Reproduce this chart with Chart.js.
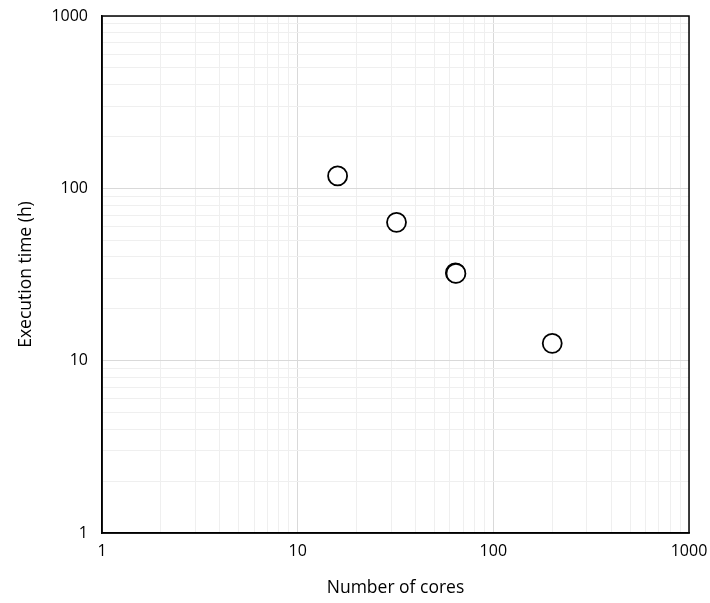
<!DOCTYPE html>
<html>
<head>
<meta charset="utf-8">
<script src="https://cdn.jsdelivr.net/npm/chart.js@4/dist/chart.umd.min.js"></script>
<style>
html,body{margin:0;padding:0;background:#fff;}
#wrap{width:710px;height:603px;position:relative;}
</style>
</head>
<body>
<div id="wrap"><canvas id="c" width="710" height="603"></canvas></div>
<script>
const cores = [16, 32, 64, 64.4, 200];
const hours = [118, 63.5, 32.3, 32.1, 12.6];
const xTickLabels = [1, 10, 100, 1000];
const yTickLabels = [1, 10, 100, 1000];
const xTitle = 'Number of cores';
const yTitle = 'Execution time (h)';

function logTicks(min, max) {
  const t = [];
  for (let d = min; d < max; d *= 10) {
    for (let k = 1; k < 10; k++) t.push({value: d * k});
  }
  t.push({value: max});
  return t;
}
function isMajor(v) {
  const l = Math.log10(v);
  return Math.abs(l - Math.round(l)) < 1e-9;
}
const font = "'Open Sans', 'Liberation Sans', sans-serif";

new Chart(document.getElementById('c'), {
  type: 'scatter',
  data: {
    datasets: [{
      data: cores.map((x, i) => ({x: x, y: hours[i]})),
      pointStyle: 'circle',
      pointRadius: 9.5,
      pointHoverRadius: 9.5,
      pointBorderWidth: 1.8,
      pointBorderColor: '#000',
      pointBackgroundColor: '#fff',
      showLine: false
    }]
  },
  options: {
    responsive: false,
    animation: false,
    devicePixelRatio: 1,
    layout: {padding: {left: 0, right: 21, top: 16, bottom: 0}},
    plugins: {legend: {display: false}, tooltip: {enabled: false}},
    scales: {
      x: {
        type: 'logarithmic',
        min: 1, max: 1000,
        afterBuildTicks: s => { s.ticks = logTicks(1, 1000); },
        afterFit: s => { s.height = 70; s.paddingLeft = 0; s.paddingRight = 0; },
        grid: {
          color: c => isMajor(c.tick.value) ? '#d9d9d9' : '#efefef',
          lineWidth: 1,
          drawTicks: false
        },
        border: {display: true, color: '#000', width: 1.5},
        ticks: {
          autoSkip: false,
          maxRotation: 0,
          padding: 9,
          color: '#000',
          font: {family: font, size: 16},
          callback: v => xTickLabels.includes(v) ? String(v) : ''
        },
        title: {display: true, text: xTitle, color: '#000',
          font: {family: font, size: 17.5}, padding: {top: 0, bottom: 4}}
      },
      y: {
        type: 'logarithmic',
        min: 1, max: 1000,
        afterBuildTicks: s => { s.ticks = logTicks(1, 1000); },
        afterFit: s => { s.width = 102; s.paddingTop = 0; s.paddingBottom = 0; },
        grid: {
          color: c => isMajor(c.tick.value) ? '#d9d9d9' : '#efefef',
          lineWidth: 1,
          drawTicks: false
        },
        border: {display: true, color: '#000', width: 1.5},
        ticks: {
          autoSkip: false,
          padding: 14,
          color: '#000',
          font: {family: font, size: 16},
          callback: v => yTickLabels.includes(v) ? String(v) : ''
        },
        title: {display: true, text: yTitle, color: '#000',
          font: {family: font, size: 17.5}, padding: {top: 16, bottom: 0}}
      }
    }
  },
  plugins: [{
    id: 'frame',
    afterDraw(chart) {
      const a = chart.chartArea, ctx = chart.ctx;
      ctx.save();
      ctx.strokeStyle = '#000';
      ctx.lineWidth = 1.5;
      ctx.strokeRect(a.left, a.top, a.right - a.left, a.bottom - a.top);
      ctx.restore();
    }
  }]
});
</script>
</body>
</html>
